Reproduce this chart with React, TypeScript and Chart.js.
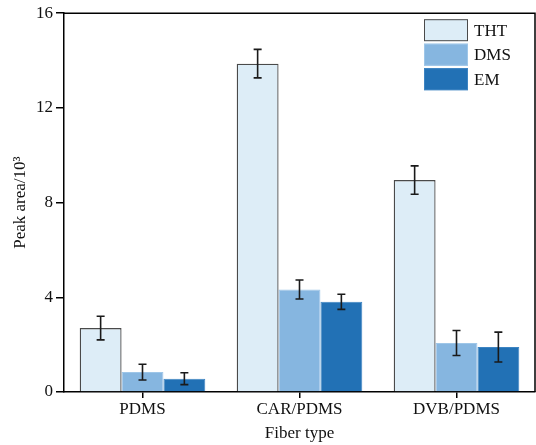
import React, { useEffect, useRef } from "react";
import { Chart, registerables } from "chart.js";

Chart.register(...registerables);

const categories = ["PDMS", "CAR/PDMS", "DVB/PDMS"];
const seriesNames = ["THT", "DMS", "EM"];
const thtValues = [2.7, 13.87, 8.95];
const thtErrors = [0.5, 0.6, 0.6];
const dmsValues = [0.84, 4.33, 2.07];
const dmsErrors = [0.33, 0.4, 0.53];
const emValues = [0.56, 3.81, 1.9];
const emErrors = [0.25, 0.32, 0.63];
const yTicks = [0, 4, 8, 12, 16];

const fills = ["#ddedf7", "#86b6e0", "#2271b5"];
const borders = ["#4a4a4a", "#9ec6e8", "#3d84c2"];
const FONT = "'Liberation Serif', 'Times New Roman', serif";

const errorBarPlugin = {
  id: "errorBars",
  afterDatasetsDraw(chart: any) {
    const ctx = chart.ctx;
    const yScale = chart.scales.y;
    const errs = [thtErrors, dmsErrors, emErrors];
    ctx.save();
    ctx.strokeStyle = "#1a1a1a";
    ctx.lineWidth = 1.6;
    chart.data.datasets.forEach((ds: any, di: number) => {
      const meta = chart.getDatasetMeta(di);
      meta.data.forEach((bar: any, i: number) => {
        const v = ds.data[i];
        const e = errs[di][i];
        const x = bar.x;
        const yt = yScale.getPixelForValue(v + e);
        const yb = yScale.getPixelForValue(v - e);
        const cap = 4;
        ctx.beginPath();
        ctx.moveTo(x, yt);
        ctx.lineTo(x, yb);
        ctx.moveTo(x - cap, yt);
        ctx.lineTo(x + cap, yt);
        ctx.moveTo(x - cap, yb);
        ctx.lineTo(x + cap, yb);
        ctx.stroke();
      });
    });
    ctx.restore();
  },
};

const frameLegendPlugin = {
  id: "frameLegend",
  afterDraw(chart: any) {
    const ctx = chart.ctx;
    const a = chart.chartArea;
    ctx.save();
    ctx.strokeStyle = "#000";
    ctx.lineWidth = 1.5;
    ctx.beginPath();
    ctx.moveTo(a.left, a.top);
    ctx.lineTo(a.right, a.top);
    ctx.lineTo(a.right, a.bottom);
    ctx.stroke();
    // legend
    const boxW = 44;
    const boxH = 22;
    const gap = 24.5;
    const bx = a.right - 111;
    const by0 = a.top + 6;
    ctx.font = `17px ${FONT}`;
    ctx.textBaseline = "middle";
    ctx.textAlign = "left";
    chart.data.datasets.forEach((ds: any, i: number) => {
      const by = by0 + i * gap;
      ctx.fillStyle = ds.backgroundColor;
      ctx.fillRect(bx, by, boxW, boxH);
      ctx.strokeStyle = ds.borderColor;
      ctx.lineWidth = 1;
      ctx.strokeRect(bx + 0.5, by + 0.5, boxW - 1, boxH - 1);
      ctx.fillStyle = "#111";
      ctx.fillText(ds.label, bx + boxW + 6, by + boxH / 2 + 1);
    });
    ctx.restore();
  },
};

export default function App() {
  const ref = useRef<HTMLCanvasElement>(null);
  useEffect(() => {
    document.body.style.margin = "0";
    const values = [thtValues, dmsValues, emValues];
    const chart = new Chart(ref.current!, {
      type: "bar",
      data: {
        labels: categories,
        datasets: seriesNames.map((name, i) => ({
          label: name,
          data: values[i],
          backgroundColor: fills[i],
          borderColor: borders[i],
          borderWidth: i === 0 ? 1.3 : 1,
          categoryPercentage: 0.8,
          barPercentage: 1.0,
        })),
      },
      options: {
        responsive: false,
        animation: false,
        layout: { padding: { top: 13, right: 1, left: 0, bottom: 0 } },
        plugins: { legend: { display: false }, tooltip: { enabled: false } },
        scales: {
          x: {
            afterFit: (s: any) => {
              s.height = 53;
            },
            grid: {
              display: true,
              offset: false,
              drawOnChartArea: false,
              drawTicks: true,
              tickLength: 6,
              color: "#000",
              lineWidth: 1.5,
            },
            border: { display: true, color: "#000", width: 1.5 },
            ticks: { color: "#111", font: { family: FONT, size: 17 }, padding: 1 },
            title: {
              display: true,
              text: "Fiber type",
              color: "#111",
              font: { family: FONT, size: 17 },
              padding: { top: 0, bottom: 1 },
            },
          },
          y: {
            min: 0,
            max: 16,
            afterFit: (s: any) => {
              s.width = 64;
            },
            afterBuildTicks: (s: any) => {
              s.ticks = yTicks.map((v) => ({ value: v }));
            },
            grid: {
              display: true,
              drawOnChartArea: false,
              drawTicks: true,
              tickLength: 8,
              color: "#000",
              lineWidth: 1.5,
            },
            border: { display: true, color: "#000", width: 1.5 },
            ticks: { color: "#111", font: { family: FONT, size: 17 }, padding: 3 },
            title: {
              display: true,
              text: "Peak area/10³",
              color: "#111",
              font: { family: FONT, size: 17 },
              padding: { top: 10, bottom: 0 },
            },
          },
        },
      },
      plugins: [errorBarPlugin, frameLegendPlugin],
    });
    return () => chart.destroy();
  }, []);
  return <canvas ref={ref} width={536} height={445} style={{ display: "block" }} />;
}
